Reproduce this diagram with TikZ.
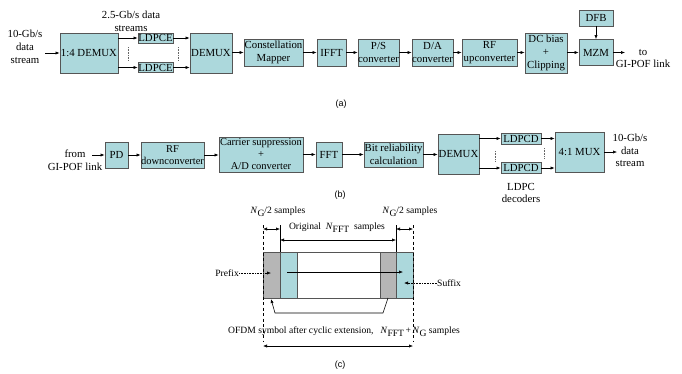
\documentclass[tikz,border=0pt]{standalone}
\usepackage{fontspec}
\setmainfont{Liberation Serif}
\newfontfamily\labfont{Liberation Sans}
\usetikzlibrary{arrows.meta}
\definecolor{boxc}{RGB}{172,216,220}
\definecolor{edgec}{RGB}{85,85,85}
\definecolor{greyc}{RGB}{182,182,182}
\newcommand\fsA{\fontsize{10.8}{12.7}\selectfont}
\newcommand\fsC{\fontsize{9.6}{11}\selectfont}
\newcommand\subG{\raisebox{-3pt}{G}}
\newcommand\subFFT{\raisebox{-3pt}{FFT}}
\begin{document}
\begin{tikzpicture}[x=1pt,y=-1pt,>={Latex[length=4pt,width=3.2pt]},
  blk/.style={draw=edgec, fill=boxc, line width=0.8pt, inner sep=0pt, align=center, font=\fsA},
  arr/.style={->, line width=0.6pt},
  txt/.style={inner sep=0pt, align=center, font=\fsA},
  ctxt/.style={inner sep=0pt, align=center, font=\fsC},
  captxt/.style={inner sep=0pt, font=\labfont\fontsize{9}{10}\selectfont},
  vdots/.style={densely dotted, line width=0.6pt, draw=black!60}]
\useasboundingbox (0,0) rectangle (682,373);

% ---------------- (a) ----------------
\node[txt] (inA) at (25,47) {10-Gb/s\\data\\stream};
\coordinate (inAe) at (45,53);
\node[blk, minimum width=58pt, minimum height=40pt] (demA) at (89,53) {1:4 DEMUX};
\node[txt] (streams) at (131,21) {2.5-Gb/s data\\streams};
\node[blk, minimum width=35pt, minimum height=10pt] (ldT) at (155.5,38) {LDPCE};
\node[blk, minimum width=35pt, minimum height=10pt] (ldB) at (155.5,67.5) {LDPCE};
\node[blk, minimum width=42pt, minimum height=40pt] (demA2) at (211,53) {DEMUX};
\node[blk, minimum width=59pt, minimum height=27pt] (const) at (273.5,52.5) {Constellation\\Mapper};
\node[blk, minimum width=29pt, minimum height=27pt] (ifft) at (331.5,52.5) {IFFT};
\node[blk, minimum width=41pt, minimum height=27pt] (ps) at (378.5,52.5) {P/S\\converter};
\node[blk, minimum width=41pt, minimum height=27pt] (da) at (432.5,52.5) {D/A\\converter};
\node[blk, minimum width=55pt, minimum height=27pt] (rfu) at (489.5,52.5) {RF\\upconverter};
\node[blk, minimum width=42pt, minimum height=40pt] (dc) at (546,53) {DC bias\\+\\Clipping};
\node[blk, minimum width=34pt, minimum height=26pt] (mzm) at (596,52.5) {MZM};
\node[blk, minimum width=34pt, minimum height=16pt] (dfb) at (596,18) {DFB};
\coordinate (outA) at (625,52.5);
\node[txt] (toA) at (643,58.5) {to\\GI-POF link};

\draw[arr] (inAe) -- (demA.west);
\draw[arr] (ldT.west -| demA.east) -- (ldT.west);
\draw[arr] (ldB.west -| demA.east) -- (ldB.west);
\draw[arr] (ldT.east) -- (ldT.east -| demA2.west);
\draw[arr] (ldB.east) -- (ldB.east -| demA2.west);
\draw[arr] (demA2.east |- const.west) -- (const.west);
\draw[arr] (const.east) -- (ifft.west);
\draw[arr] (ifft.east) -- (ps.west);
\draw[arr] (ps.east) -- (da.west);
\draw[arr] (da.east) -- (rfu.west);
\draw[arr] (rfu.east) -- (rfu.east -| dc.west);
\draw[arr] (dc.east |- mzm.west) -- (mzm.west);
\draw[arr] (dfb.south) -- (mzm.north);
\draw[arr] (mzm.east) -- (outA);
\draw[vdots] (128,47) -- (128,60);
\draw[vdots] (178,47) -- (178,60);
\node[captxt] (capa) at (341,104) {(a)};

% ---------------- (b) ----------------
\node[txt] (inB) at (75,160.5) {from\\GI-POF link};
\coordinate (inBe) at (92,155);
\node[blk, minimum width=23pt, minimum height=26pt] (pd) at (116.5,155) {PD};
\node[blk, minimum width=63pt, minimum height=26pt, font=\fontsize{10.5}{12.5}\selectfont] (rfd) at (172.5,155) {RF\\downconverter};
\node[blk, minimum width=84pt, minimum height=35pt, font=\fontsize{10.5}{12}\selectfont] (car) at (261,154.5) {Carrier suppression\\+\\A/D converter};
\node[blk, minimum width=26pt, minimum height=25pt] (fft) at (329,154.5) {FFT};
\node[blk, minimum width=59pt, minimum height=25pt] (bit) at (393.5,154.5) {Bit reliability\\calculation};
\node[blk, minimum width=41pt, minimum height=40pt] (demB) at (458.5,154) {DEMUX};
\node[blk, minimum width=40pt, minimum height=11pt] (lcT) at (521,138.5) {LDPCD};
\node[blk, minimum width=40pt, minimum height=10.5pt] (lcB) at (521,168) {LDPCD};
\node[blk, minimum width=49pt, minimum height=40pt] (mux) at (579.5,152) {4:1 MUX};
\coordinate (outB) at (617,152);
\node[txt] (strB) at (630,150.5) {10-Gb/s\\data\\stream};
\node[txt] (dec) at (521,193) {LDPC\\decoders};

\draw[arr] (inBe) -- (pd.west);
\draw[arr] (pd.east) -- (rfd.west);
\draw[arr] (rfd.east) -- (rfd.east -| car.west);
\draw[arr] (car.east |- fft.west) -- (fft.west);
\draw[arr] (fft.east) -- (bit.west);
\draw[arr] (bit.east) -- (bit.east -| demB.west);
\draw[arr] (lcT.west -| demB.east) -- (lcT.west);
\draw[arr] (lcB.west -| demB.east) -- (lcB.west);
\draw[arr] (lcT.east) -- (lcT.east -| mux.west);
\draw[arr] (lcB.east) -- (lcB.east -| mux.west);
\draw[arr] (mux.east) -- (outB);
\draw[vdots] (495,151) -- (495,161);
\draw[vdots] (544,148) -- (544,158);
\node[captxt] (capb) at (340,195) {(b)};

% ---------------- (c) ----------------
\fill[greyc] (263,252) rectangle (280,298);
\fill[boxc] (280,252) rectangle (297,298);
\fill[greyc] (380,252) rectangle (396,298);
\fill[boxc] (396,252) rectangle (413,298);
\draw[edgec, line width=0.8pt] (263,252) rectangle (413,298);
\draw[edgec, line width=0.8pt] (280,252) -- (280,298) (297,252) -- (297,298)
  (380,252) -- (380,298) (396,252) -- (396,298);
\draw[dashed, dash pattern=on 3pt off 2.5pt, line width=0.6pt] (263,225) -- (263,341);
\draw[dashed, dash pattern=on 3pt off 2.5pt, line width=0.6pt] (413,225) -- (413,341);
\draw[line width=0.6pt] (280,225) -- (280,252);
\draw[line width=0.6pt] (396,225) -- (396,252);
\draw[<->, line width=0.6pt] (263,229) -- (280,229);
\draw[<->, line width=0.6pt] (396,229) -- (413,229);
\draw[<->, line width=0.6pt] (280,240) -- (396,240);
\draw[->, line width=0.6pt] (287,272) -- (403,272);
\node[ctxt] (ngl) at (278,212) {\textit{N}\subG/2 samples};
\node[ctxt] (ngr) at (410,212) {\textit{N}\subG/2 samples};
\node[ctxt] (orig) at (337,228) {Original\ \ \textit{N}\subFFT\ \ samples};
\node[ctxt, anchor=east] (pre) at (239,273) {Prefix};
\draw[->, densely dotted, line width=0.6pt] (pre.east) -- (271,273);
\node[ctxt, anchor=west] (suf) at (437,283) {Suffix};
\draw[->, densely dotted, line width=0.6pt] (suf.west) -- (404,283);
\draw[->, line width=0.6pt] (388,298) -- (383,313) -- (275,313) -- (271,299);
\node[ctxt] (ofdm) at (344,332) {OFDM symbol after cyclic extension,\ \ \ \textit{N}\subFFT\,+\,\textit{N}\subG\ samples};
\draw[<->, line width=0.6pt] (263,346) -- (413,346);
\node[captxt] (capc) at (340,365) {(c)};
\end{tikzpicture}
\end{document}
